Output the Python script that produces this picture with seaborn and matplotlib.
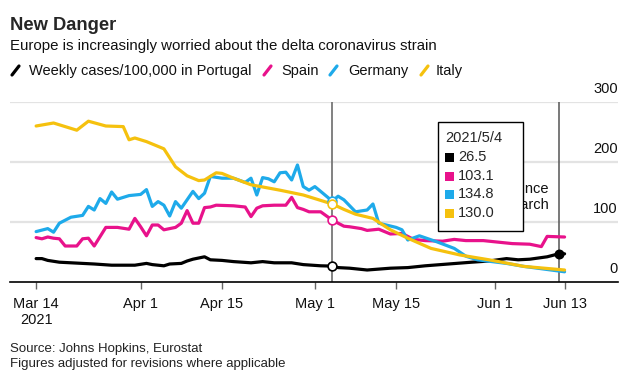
import seaborn as sns
import matplotlib.pyplot as plt
import pandas as pd

sns.set_style("white")
plt.rcParams['font.family'] = ['Liberation Sans', 'DejaVu Sans']

start = pd.Timestamp("2021-03-14")

# days since Mar 14 and weekly cases per 100,000
portugal_days = [0, 1, 2, 4, 8, 10, 13, 17, 19, 20, 22, 23, 25, 26, 27, 29, 30, 32, 34, 37, 39,
                 41, 44, 46, 49, 51, 52, 54, 57, 61, 64, 67, 71, 75, 78, 81, 83, 85, 88, 90, 91]
portugal = [39, 39, 36, 33, 31, 30, 28, 28, 31, 29, 27, 30, 31, 35, 38, 42, 37, 36, 34, 32, 34,
            32, 32, 29, 27, 26.5, 24, 23, 20, 23, 24, 27, 30, 33, 35, 39, 37, 38, 42, 47, 47]

spain_days = [0, 1, 2, 3, 4, 5, 7, 8, 9, 10, 12, 14, 16, 17, 18, 19, 20, 21, 22, 23, 24, 25, 26,
              27, 28, 29, 30, 31, 34, 36, 37, 38, 39, 41, 43, 44, 45, 46, 47, 49, 51, 53, 54, 56,
              57, 59, 61, 63, 65, 67, 70, 72, 74, 77, 79, 82, 85, 87, 88, 91]
spain = [74, 72, 75, 73, 72, 60, 60, 72, 73, 60, 91, 91, 88, 106, 92, 77, 95, 95, 87, 89, 91, 98, 119,
         98, 98, 124, 125, 128, 127, 125, 109, 123, 127, 128, 128, 141, 124, 121, 117, 117, 103.1, 93, 92, 89,
         86, 88, 80, 81, 71, 69, 68, 71, 69, 69, 67, 64, 63, 59, 76, 75]

germany_days = [0, 2, 3, 4, 6, 8, 9, 10, 11, 12, 13, 14, 16, 18, 19, 20, 21, 22, 23, 24, 25, 26,
                27, 28, 29, 30, 32, 34, 36, 37, 38, 39, 40, 41, 42, 43, 44, 45, 46, 47, 48, 49, 51,
                52, 53, 55, 57, 58, 59, 62, 63, 64, 66, 69, 72, 74, 76, 81, 84, 91]
germany = [84, 89, 83, 98, 108, 111, 126, 120, 139, 131, 150, 138, 144, 146, 154, 126, 134, 128, 110, 134, 123, 137,
           151, 139, 148, 176, 173, 173, 166, 173, 145, 174, 172, 167, 182, 183, 170, 195, 159, 153, 159, 151, 134.8,
           143, 137, 117, 120, 130, 98, 91, 87, 70, 77, 67, 56, 43, 37, 31, 26, 17]

italy_days = [0, 3, 7, 9, 12, 15, 16, 17, 19, 21, 22, 24, 26, 28, 29, 31, 32, 34, 37, 42, 46, 51,
              53, 55, 58, 61, 64, 68, 73, 78, 84, 91]
italy = [260, 265, 253, 268, 260, 259, 237, 240, 234, 226, 222, 192, 177, 169, 170, 182, 181, 173, 162, 153, 145, 130,
         121, 113, 106, 87, 73, 56, 45, 37, 26, 20]

countries = ["Portugal", "Spain", "Germany", "Italy"]
colors = {"Portugal": "#000000", "Spain": "#e8128b", "Germany": "#1eaaea", "Italy": "#f5c10e"}

frames = []
for name, days, vals in [("Portugal", portugal_days, portugal), ("Spain", spain_days, spain),
                         ("Germany", germany_days, germany), ("Italy", italy_days, italy)]:
    frames.append(pd.DataFrame({"date": start + pd.to_timedelta(days, unit="D"),
                                "value": vals, "country": name}))
df = pd.concat(frames, ignore_index=True)

hover_day = pd.Timestamp("2021-05-04")
hover_vals = [26.5, 103.1, 134.8, 130.0]
last_day = pd.Timestamp("2021-06-12")

tick_dates = ["2021-03-14", "2021-04-01", "2021-04-15", "2021-05-01", "2021-05-15", "2021-06-01", "2021-06-13"]
tick_labels = ["Mar 14\n2021", "Apr 1", "Apr 15", "May 1", "May 15", "Jun 1", "Jun 13"]

W, H = 636, 380
fig = plt.figure(figsize=(W / 100, H / 100), dpi=100)
ax = fig.add_axes([10 / W, 1 - 282 / H, 608 / W, 180 / H])

def fx(x):
    return x / W

def fy(y):
    return 1 - y / H

sns.lineplot(data=df, x="date", y="value", hue="country", hue_order=countries,
             palette=colors, linewidth=2.3, legend=False, ax=ax, zorder=3)

ax.set_xlim(start - pd.Timedelta(days=4.5), start + pd.Timedelta(days=100.2))
ax.set_ylim(0, 300)
ax.set_xlabel("")
ax.set_ylabel("")

for v in [100, 200, 300]:
    ax.axhline(v, color="#e3e3e3", lw=1.6, zorder=1)
for v in [0, 100, 200, 300]:
    ax.annotate(str(v), xy=(1, v), xycoords=("axes fraction", "data"), xytext=(0, 6.5),
                textcoords="offset points", ha="right", va="baseline", fontsize=10.5, color="#111111")

ax.axvline(hover_day, color="#777777", lw=1.3, zorder=2)
ax.axvline(last_day, color="#555555", lw=1.1, zorder=2)

for name, v in zip(countries, hover_vals):
    ax.scatter([hover_day], [v], s=40, facecolor="white", edgecolor=colors[name], linewidth=1.2, zorder=5)
ax.scatter([last_day], [portugal[-2]], s=38, color="black", zorder=5)

sns.despine(ax=ax, left=True, top=True, right=True)
ax.spines["bottom"].set_color("black")
ax.spines["bottom"].set_linewidth(1.2)
ax.set_yticks([])
ax.set_xticks(pd.to_datetime(tick_dates))
ax.set_xticklabels(tick_labels, fontsize=10.5, color="#111111")
ax.tick_params(axis="x", direction="out", length=5, width=1, color="#666666", pad=6, bottom=True)

# header
fig.text(fx(10), fy(25), "New Danger", fontsize=13.2, fontweight="bold", va="center", ha="left")
fig.text(fx(10), fy(46), "Europe is increasingly worried about the delta coronavirus strain",
         fontsize=10.8, va="center", ha="left", color="#111111")

legend_items = [("Weekly cases/100,000 in Portugal", "Portugal", 12, 29),
                ("Spain", "Spain", 264, 281),
                ("Germany", "Germany", 330, 348),
                ("Italy", "Italy", 421, 436)]
for label, name, mx, tx in legend_items:
    fig.add_artist(plt.Line2D([fx(mx), fx(mx + 7)], [fy(75), fy(66)], color=colors[name],
                              lw=2.3, transform=fig.transFigure))
    fig.text(fx(tx), fy(71), label, fontsize=10.5, va="center", ha="left", color="#111111")

# annotation partly covered by the hover box, as in the original
fig.text(fx(549), fy(197), "Highest since\nMarch", fontsize=10.5, ha="right", va="center",
         linespacing=1.1, color="#111111", zorder=2)

box = plt.Rectangle((fx(438), fy(231)), fx(85), 109 / H, transform=fig.transFigure,
                    facecolor="white", edgecolor="black", lw=1, zorder=6)
fig.add_artist(box)
fig.text(fx(445), fy(138), "2021/5/4", fontsize=10.5, va="center", ha="left", zorder=7)
for i, (name, v) in enumerate(zip(countries, hover_vals)):
    yc = 157 + i * 18.7
    fig.add_artist(plt.Rectangle((fx(445), fy(yc + 5)), fx(9), 9 / H, transform=fig.transFigure,
                                 facecolor=colors[name], edgecolor="none", zorder=7))
    fig.text(fx(458), fy(yc), f"{v:.1f}", fontsize=10.5, va="center", ha="left", zorder=7)

fig.text(fx(10), fy(349), "Source: Johns Hopkins, Eurostat", fontsize=9.5, va="center", color="#222222")
fig.text(fx(10), fy(364), "Figures adjusted for revisions where applicable", fontsize=9.5,
         va="center", color="#222222")

fig.savefig("out.png", dpi=100)
